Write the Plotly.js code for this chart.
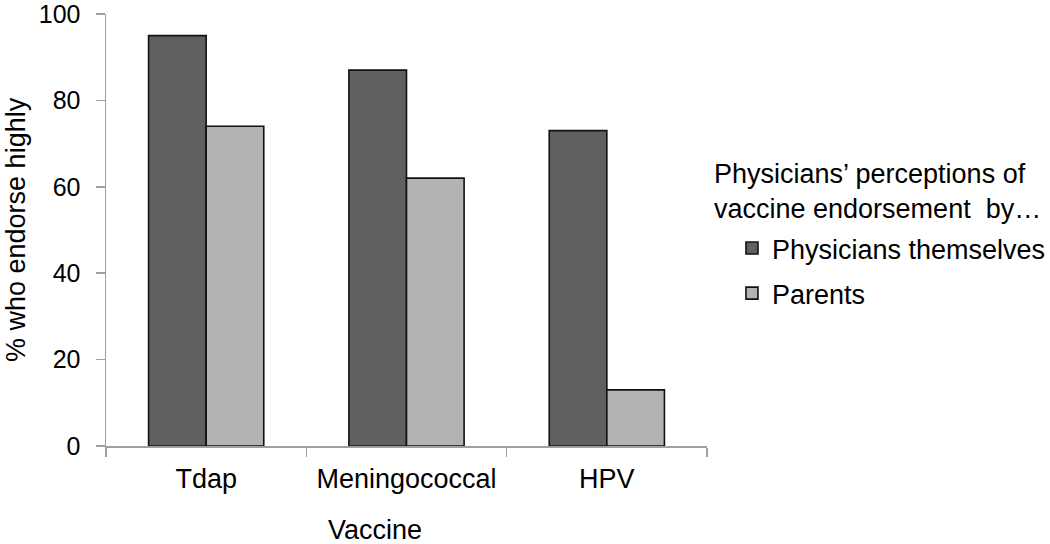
<!DOCTYPE html>
<html>
<head>
<meta charset="utf-8">
<script src="https://cdn.plot.ly/plotly-3.0.1.min.js"></script>
<style>html,body{margin:0;padding:0;background:#fff;}#chart{width:1050px;height:544px;}</style>
</head>
<body>
<div id="chart"></div>
<script>
const categories = ["Tdap", "Meningococcal", "HPV"];
const physiciansThemselves = [95, 87, 73];
const parents = [74, 62, 13];
const seriesNames = ["Physicians themselves", "Parents"];
const legendTitle = "Physicians\u2019 perceptions of<br>vaccine endorsement\u00a0 by\u2026";
const yTicks = [0, 20, 40, 60, 80, 100];

const FONT = "Liberation Sans, Arial, sans-serif";
const FS = 27;

const traces = [
  {
    type: "bar", x: categories, y: physiciansThemselves, name: seriesNames[0],
    legendgroup: "a",
    marker: {color: "#606060", line: {color: "#111111", width: 1.6}},
    hoverinfo: "x+y+name"
  },
  {
    type: "bar", x: categories, y: parents, name: seriesNames[1],
    legendgroup: "b",
    marker: {color: "#b3b3b3", line: {color: "#111111", width: 1.6}},
    hoverinfo: "x+y+name"
  }
];

const layout = {
  width: 1050, height: 544,
  paper_bgcolor: "#ffffff", plot_bgcolor: "#ffffff",
  margin: {l: 106, r: 343, t: 14, b: 98, pad: 0},
  font: {family: FONT, size: FS, color: "#000000"},
  barmode: "group",
  bargap: 0.425,
  bargroupgap: 0,
  showlegend: true,
  legend: {
    xref: "container", yref: "container",
    x: 0.6971, xanchor: "left",
    y: 0.5882, yanchor: "top",
    font: {family: FONT, size: FS, color: "#000000"},
    traceorder: "grouped",
    tracegroupgap: 7,
    bgcolor: "rgba(0,0,0,0)"
  },
  xaxis: {
    type: "category",
    range: [-0.5, 2.5],
    showline: true, linecolor: "#a0a0a0", linewidth: 1.5,
    ticks: "outside", tickson: "boundaries", ticklen: 9, tickcolor: "#a0a0a0", tickwidth: 1.5,
    ticklabelstandoff: 8,
    tickfont: {family: FONT, size: FS, color: "#000000"},
    showgrid: false, zeroline: false,
    fixedrange: true
  },
  yaxis: {
    range: [0, 100],
    tickvals: yTicks,
    ticktext: yTicks.map(String),
    showline: true, linecolor: "#a0a0a0", linewidth: 1.5,
    ticks: "outside", ticklen: 9, tickcolor: "#a0a0a0", tickwidth: 1.5,
    ticklabelstandoff: 10,
    ticklabeloverflow: "allow",
    tickfont: {family: FONT, size: 25, color: "#000000"},
    showgrid: false, zeroline: false,
    fixedrange: true
  },
  annotations: [
    {
      text: "% who endorse highly", textangle: -90,
      xref: "paper", yref: "paper", x: 0, y: 0.5,
      xanchor: "center", yanchor: "middle", xshift: -90,
      showarrow: false, font: {family: FONT, size: FS, color: "#000000"}
    },
    {
      text: "Vaccine",
      xref: "paper", yref: "paper", x: 0.4476, y: 0,
      xanchor: "center", yanchor: "middle", yshift: -84,
      showarrow: false, font: {family: FONT, size: FS, color: "#000000"}
    },
    {
      text: legendTitle, align: "left",
      xref: "paper", yref: "paper", x: 1.0083, y: 0.5885,
      xanchor: "left", yanchor: "middle",
      showarrow: false, font: {family: FONT, size: FS, color: "#000000"}
    }
  ]
};

Plotly.newPlot("chart", traces, layout, {displayModeBar: false, staticPlot: true});
</script>
</body>
</html>
